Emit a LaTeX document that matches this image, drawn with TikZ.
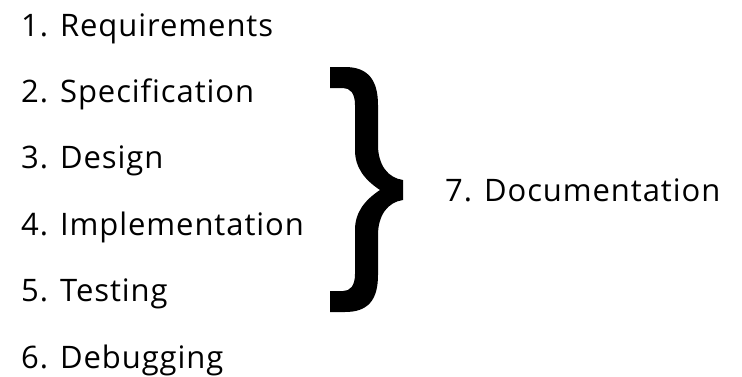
\documentclass[tikz,border=0pt]{standalone}
\usepackage{fontspec}
\setmainfont{Open Sans}[Ligatures={NoCommon}, LetterSpace=3]
\usetikzlibrary{positioning}

\begin{document}
\begin{tikzpicture}[
    x=1pt, y=-1pt,
    item/.style={inner sep=0pt, text height=22pt, text depth=8pt,
      font=\fontsize{31}{36}\selectfont},
    brace/.style={fill=black, draw=none}
  ]
    \useasboundingbox (0,0) rectangle (742,376);

    \node[item, anchor=base west] (req) at (21,36) {1. Requirements};
    \node[item, below=36pt of req.south west, anchor=north west]    (spec)   {2. Specification};
    \node[item, below=36pt of spec.south west, anchor=north west]   (design) {3. Design};
    \node[item, below=36pt of design.south west, anchor=north west] (impl)   {4. Implementation};
    \node[item, below=36pt of impl.south west, anchor=north west]   (test)   {5. Testing};
    \node[item, below=36pt of test.south west, anchor=north west]   (debug)  {6. Debugging};

    % big brace over 2--5
    \fill[brace] (330,67) -- (345,67) .. controls (368,67) and (378,80) .. (378,105)
      -- (378,145) .. controls (378,165) and (388,178) .. (403,180)
      -- (403,200) .. controls (388,202) and (378,215) .. (378,235)
      -- (378,275) .. controls (378,300) and (368,312) .. (345,312)
      -- (330,312) -- (330,291) -- (343,291) .. controls (350,291) and (355,286) .. (355,274)
      -- (355,230) .. controls (355,212) and (365,200) .. (380,190)
      .. controls (365,180) and (355,168) .. (355,150)
      -- (355,105) .. controls (355,93) and (350,88) .. (343,88)
      -- (330,88) -- cycle;
    \coordinate (tip) at (403,190);

    \node[item, anchor=base west] (doc) at (445,201) {7. Documentation};
  \end{tikzpicture}
\end{document}
